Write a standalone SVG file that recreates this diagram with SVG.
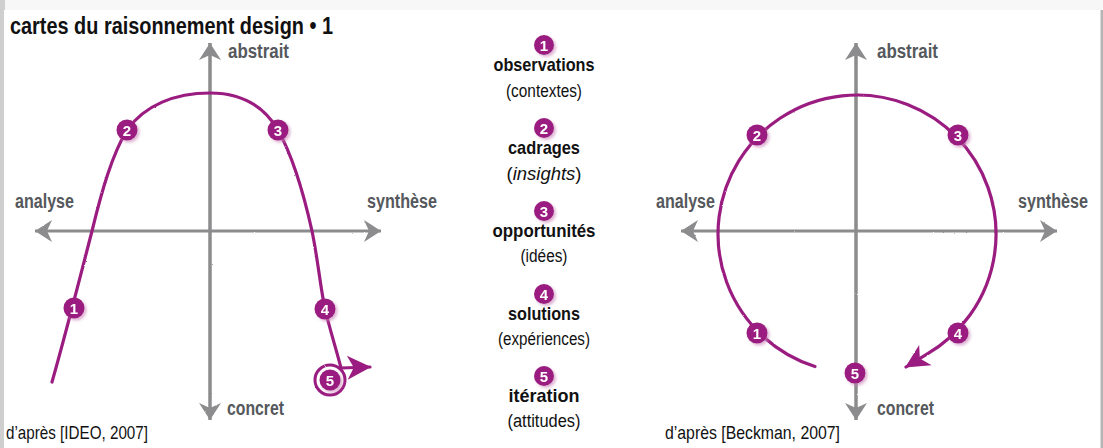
<svg xmlns="http://www.w3.org/2000/svg" width="1103" height="448" viewBox="0 0 1103 448">
<style>
.ttl{font-family:"Liberation Sans","DejaVu Sans",sans-serif;font-weight:bold;font-size:23px;fill:#111}
.ax{font-family:"Liberation Sans","DejaVu Sans",sans-serif;font-weight:bold;font-size:20px;fill:#55585c}
.lh{font-family:"Liberation Sans","DejaVu Sans",sans-serif;font-weight:bold;font-size:19px;fill:#111;text-anchor:middle}
.ls{font-family:"Liberation Sans","DejaVu Sans",sans-serif;font-size:18px;fill:#111;text-anchor:middle}
.src{font-family:"Liberation Sans","DejaVu Sans",sans-serif;font-size:19px;fill:#111}
.num{font-family:"Liberation Sans","DejaVu Sans",sans-serif;font-weight:bold;font-size:15px;fill:#fff;text-anchor:middle}
.dot{fill:#9b1d80}
.axis{stroke:#8c8c8e;stroke-width:3;fill:none}
.path{stroke:#9b1d80;stroke-width:3.2;fill:none;stroke-linecap:round;stroke-linejoin:round}
</style>
<defs>
<marker id="ga" markerUnits="userSpaceOnUse" markerWidth="24" markerHeight="26" refX="18" refY="12" orient="auto" viewBox="0 0 24 24">
<path d="M18,12 L1,1 L6,12 L1,23 Z" fill="#8c8c8e"/>
</marker>
<marker id="ma" markerUnits="userSpaceOnUse" markerWidth="26" markerHeight="26" refX="22" refY="12" orient="auto" viewBox="0 0 24 24">
<path d="M23,12 L1,1 L7,12 L1,23 Z" fill="#9b1d80"/>
</marker>
<filter id="sh" x="-50%" y="-50%" width="200%" height="200%">
<feGaussianBlur in="SourceAlpha" stdDeviation="1.5"/>
<feOffset dx="2" dy="2" result="b"/>
<feFlood flood-color="#c77db4" flood-opacity="0.6"/>
<feComposite in2="b" operator="in"/>
<feMerge><feMergeNode/><feMergeNode in="SourceGraphic"/></feMerge>
</filter>
<filter id="chalk" x="-5%" y="-5%" width="110%" height="110%">
<feTurbulence type="fractalNoise" baseFrequency="0.9" numOctaves="2" seed="3"/>
<feDisplacementMap in="SourceGraphic" scale="1.6" xChannelSelector="R" yChannelSelector="G"/>
</filter>
<linearGradient id="topg" x1="0" y1="0" x2="0" y2="1">
<stop offset="0" stop-color="#f7f7f7"/><stop offset="1" stop-color="#e9e9e9"/>
</linearGradient>
</defs>

<rect x="0" y="0" width="1103" height="448" fill="url(#topg)"/>
<rect x="0" y="0" width="5" height="448" fill="#cfcfcf"/>
<rect x="4" y="10" width="1097" height="438" fill="#ffffff"/>
<rect x="1100.5" y="10" width="2.5" height="438" fill="#b5b5b5"/>

<text class="ttl" x="10" y="34" textLength="323" lengthAdjust="spacingAndGlyphs">cartes du raisonnement design • 1</text>

<g id="connectors" filter="url(#chalk)">
<line class="axis" x1="210" y1="420" x2="210" y2="43" marker-end="url(#ga)"/>
<line class="axis" x1="210" y1="43" x2="210" y2="420" marker-end="url(#ga)"/>
<line class="axis" x1="210" y1="231" x2="35" y2="231" marker-end="url(#ga)"/>
<line class="axis" x1="210" y1="231" x2="381" y2="231" marker-end="url(#ga)"/>
<line class="axis" x1="856" y1="420" x2="856" y2="43" marker-end="url(#ga)"/>
<line class="axis" x1="856" y1="43" x2="856" y2="420" marker-end="url(#ga)"/>
<line class="axis" x1="856" y1="231" x2="681" y2="231" marker-end="url(#ga)"/>
<line class="axis" x1="856" y1="231" x2="1057" y2="231" marker-end="url(#ga)"/>

<path class="path" d="M52,382 C64,340 82,270 92,231 C102,190 112,155 127,130 C145,105 175,93 210,93 C245,93 265,108 278,130 C292,155 304,195 312,231 C318,260 320,285 325,309 C330,330 337,352 341,368"/>
<path class="path" d="M341,368 L370,367" marker-end="url(#ma)"/>
<circle cx="330" cy="380" r="15" fill="none" stroke="#9b1d80" stroke-width="3"/>

<path class="path" d="M815,366.5 A139,139 0 1 1 926.5,354.4 L906,367" marker-end="url(#ma)"/>
</g>

<g id="axis-labels">
<text class="ax" x="228" y="58" textLength="61" lengthAdjust="spacingAndGlyphs">abstrait</text>
<text class="ax" x="15" y="208" textLength="59" lengthAdjust="spacingAndGlyphs">analyse</text>
<text class="ax" x="367" y="208" textLength="70" lengthAdjust="spacingAndGlyphs">synthèse</text>
<text class="ax" x="227" y="415" textLength="57" lengthAdjust="spacingAndGlyphs">concret</text>
<text class="ax" x="877" y="58" textLength="61" lengthAdjust="spacingAndGlyphs">abstrait</text>
<text class="ax" x="656" y="208" textLength="59" lengthAdjust="spacingAndGlyphs">analyse</text>
<text class="ax" x="1018" y="208" textLength="70" lengthAdjust="spacingAndGlyphs">synthèse</text>
<text class="ax" x="877" y="415" textLength="57" lengthAdjust="spacingAndGlyphs">concret</text>
</g>

<g id="left-steps">
<g id="l1" filter="url(#sh)"><circle class="dot" cx="74" cy="308" r="10.5"/><text class="num" x="74" y="313.5">1</text></g>
<g id="l2" filter="url(#sh)"><circle class="dot" cx="127" cy="130" r="10.5"/><text class="num" x="127" y="135.5">2</text></g>
<g id="l3" filter="url(#sh)"><circle class="dot" cx="278" cy="130" r="10.5"/><text class="num" x="278" y="135.5">3</text></g>
<g id="l4" filter="url(#sh)"><circle class="dot" cx="325" cy="309" r="10.5"/><text class="num" x="325" y="314.5">4</text></g>
<g id="l5" filter="url(#sh)"><circle class="dot" cx="330" cy="380" r="10.5"/><text class="num" x="330" y="385.5">5</text></g>
</g>

<g id="right-steps">
<g id="r1" filter="url(#sh)"><circle class="dot" cx="757" cy="333" r="10.5"/><text class="num" x="757" y="338.5">1</text></g>
<g id="r2" filter="url(#sh)"><circle class="dot" cx="757" cy="135" r="10.5"/><text class="num" x="757" y="140.5">2</text></g>
<g id="r3" filter="url(#sh)"><circle class="dot" cx="958" cy="135" r="10.5"/><text class="num" x="958" y="140.5">3</text></g>
<g id="r4" filter="url(#sh)"><circle class="dot" cx="958" cy="333" r="10.5"/><text class="num" x="958" y="338.5">4</text></g>
<g id="r5" filter="url(#sh)"><circle class="dot" cx="855" cy="373" r="10.5"/><text class="num" x="855" y="378.5">5</text></g>
</g>

<g id="legend">
<g id="leg1">
<g filter="url(#sh)"><circle class="dot" cx="544" cy="45" r="10"/><text class="num" x="544" y="50.5">1</text></g>
<text class="lh" x="544" y="71" textLength="101" lengthAdjust="spacingAndGlyphs">observations</text>
<text class="ls" x="544" y="97" textLength="76" lengthAdjust="spacingAndGlyphs">(contextes)</text>
</g>
<g id="leg2">
<g filter="url(#sh)"><circle class="dot" cx="544" cy="128" r="10"/><text class="num" x="544" y="133.5">2</text></g>
<text class="lh" x="544" y="154" textLength="72" lengthAdjust="spacingAndGlyphs">cadrages</text>
<text class="ls" x="544" y="180" textLength="75" lengthAdjust="spacingAndGlyphs">(<tspan font-style="italic">insights</tspan>)</text>
</g>
<g id="leg3">
<g filter="url(#sh)"><circle class="dot" cx="544" cy="211" r="10"/><text class="num" x="544" y="216.5">3</text></g>
<text class="lh" x="544" y="237" textLength="103" lengthAdjust="spacingAndGlyphs">opportunités</text>
<text class="ls" x="544" y="262" textLength="47" lengthAdjust="spacingAndGlyphs">(idées)</text>
</g>
<g id="leg4">
<g filter="url(#sh)"><circle class="dot" cx="544" cy="294" r="10"/><text class="num" x="544" y="299.5">4</text></g>
<text class="lh" x="544" y="320" textLength="72" lengthAdjust="spacingAndGlyphs">solutions</text>
<text class="ls" x="544" y="345" textLength="92" lengthAdjust="spacingAndGlyphs">(expériences)</text>
</g>
<g id="leg5">
<g filter="url(#sh)"><circle class="dot" cx="544" cy="376" r="10"/><text class="num" x="544" y="381.5">5</text></g>
<text class="lh" x="544" y="402" textLength="71" lengthAdjust="spacingAndGlyphs">itération</text>
<text class="ls" x="544" y="427" textLength="73" lengthAdjust="spacingAndGlyphs">(attitudes)</text>
</g>
</g>

<g id="sources">
<text class="src" x="6" y="439" textLength="142" lengthAdjust="spacingAndGlyphs">d’après [IDEO, 2007]</text>
<text class="src" x="665" y="439" textLength="175" lengthAdjust="spacingAndGlyphs">d’après [Beckman, 2007]</text>
</g>
</svg>
